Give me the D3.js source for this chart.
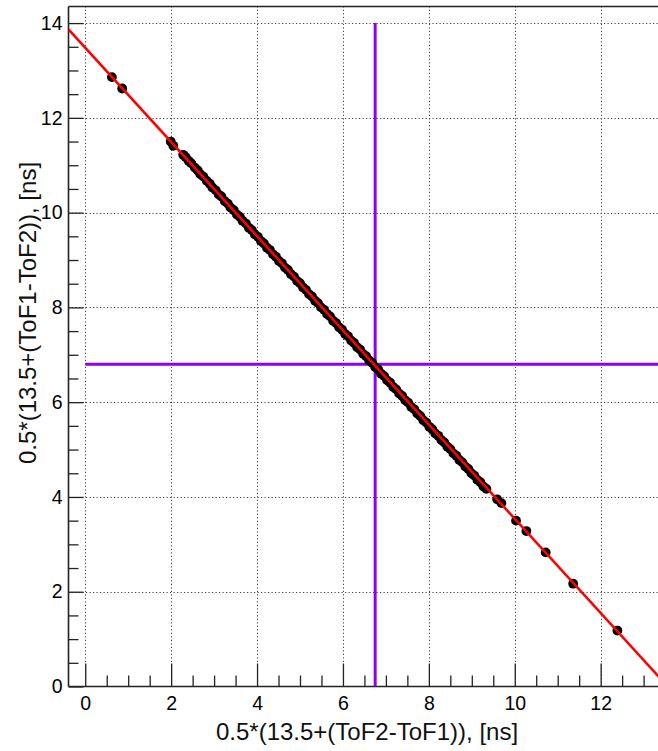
<!DOCTYPE html>
<html>
<head>
<meta charset="utf-8">
<script src="https://cdn.jsdelivr.net/npm/d3@7"></script>
<style>
  body { margin: 0; background: #fff; }
  svg { display: block; font-family: "Liberation Sans", Arial, sans-serif; }
</style>
</head>
<body>
<div id="chart"></div>
<script>
// measured points (x, y) in ns
const outerPoints = [
  [0.62, 12.86], [0.86, 12.62], [1.99, 11.50], [2.05, 11.41],
  [9.59, 3.95], [9.69, 3.87], [10.03, 3.50], [10.27, 3.28],
  [10.72, 2.83], [11.36, 2.17], [12.39, 1.18]
];
const bandPoints = [
  [2.28, 11.22], [2.34, 11.17], [2.41, 11.09], [2.47, 11.04], [2.55, 10.95],
  [2.62, 10.89], [2.68, 10.81], [2.75, 10.76], [2.83, 10.67], [2.90, 10.61],
  [2.96, 10.53], [3.04, 10.47], [3.11, 10.38], [3.17, 10.34], [3.25, 10.24],
  [3.32, 10.19], [3.38, 10.11], [3.46, 10.05], [3.53, 9.96], [3.60, 9.91],
  [3.66, 9.83], [3.74, 9.77], [3.81, 9.68], [3.88, 9.63], [3.95, 9.54],
  [4.02, 9.49], [4.09, 9.40], [4.16, 9.35], [4.23, 9.26], [4.30, 9.21],
  [4.37, 9.12], [4.44, 9.07], [4.51, 8.98], [4.58, 8.93], [4.65, 8.84],
  [4.72, 8.79], [4.79, 8.70], [4.86, 8.65], [4.93, 8.56], [5.00, 8.51],
  [5.07, 8.42], [5.14, 8.37], [5.21, 8.28], [5.28, 8.23], [5.35, 8.14],
  [5.42, 8.09], [5.49, 8.00], [5.56, 7.95], [5.63, 7.86], [5.70, 7.81],
  [5.77, 7.72], [5.84, 7.67], [5.91, 7.58], [5.98, 7.53], [6.05, 7.44],
  [6.12, 7.39], [6.19, 7.30], [6.26, 7.25], [6.33, 7.16], [6.40, 7.11],
  [6.47, 7.02], [6.54, 6.97], [6.61, 6.88], [6.68, 6.83], [6.75, 6.74],
  [6.82, 6.69], [6.89, 6.60], [6.96, 6.55], [7.03, 6.46], [7.10, 6.41],
  [7.17, 6.32], [7.24, 6.27], [7.31, 6.18], [7.38, 6.13], [7.45, 6.04],
  [7.52, 5.99], [7.59, 5.90], [7.66, 5.85], [7.73, 5.76], [7.80, 5.71],
  [7.87, 5.62], [7.94, 5.57], [8.01, 5.48], [8.08, 5.43], [8.15, 5.34],
  [8.22, 5.29], [8.29, 5.20], [8.36, 5.15], [8.43, 5.06], [8.50, 5.01],
  [8.57, 4.92], [8.64, 4.87], [8.71, 4.78], [8.78, 4.73], [8.85, 4.64],
  [8.92, 4.59], [8.99, 4.50], [9.06, 4.45], [9.13, 4.36], [9.20, 4.31],
  [9.27, 4.22], [9.34, 4.17]
];
// linear fit  y = p0 + p1*x
const fitParams = [13.48, -0.994];
// cut lines
const cutX = 6.75;
const cutY = 6.8;

const xMajor = [0, 2, 4, 6, 8, 10, 12];
const xMinor = [0.5, 1, 1.5, 2.5, 3, 3.5, 4.5, 5, 5.5, 6.5, 7, 7.5, 8.5, 9, 9.5, 10.5, 11, 11.5, 12.5, 13];
const yMajor = [0, 2, 4, 6, 8, 10, 12, 14];
const yMinor = [0.5, 1, 1.5, 2.5, 3, 3.5, 4.5, 5, 5.5, 6.5, 7, 7.5, 8.5, 9, 9.5, 10.5, 11, 11.5, 12.5, 13, 13.5];

const xTitle = "0.5*(13.5+(ToF2-ToF1)), [ns]";
const yTitle = "0.5*(13.5+(ToF1-ToF2)), [ns]";

const W = 658, H = 751;
const frame = {left: 68.5, top: 6.5, bottom: 686.5};

const svg = d3.select("#chart").append("svg")
  .attr("width", W).attr("height", H);

svg.append("rect").attr("width", W).attr("height", H).attr("fill", "#fff");

const x = d3.scaleLinear().domain([-0.39, 13.6]).range([frame.left, frame.left + 13.99 * 42.95]);
const y = d3.scaleLinear().domain([0, 14.35]).range([frame.bottom, frame.top]);
const xMax = x.invert(W);

svg.append("clipPath").attr("id", "plot")
  .append("rect")
  .attr("x", frame.left).attr("y", frame.top)
  .attr("width", W - frame.left).attr("height", frame.bottom - frame.top);

// grid
const grid = svg.append("g").attr("stroke", "#444").attr("stroke-width", 1)
  .attr("stroke-dasharray", "1.2,2.3");
grid.selectAll(".gx").data(xMajor).join("line")
  .attr("x1", d => Math.round(x(d)) + 0.5).attr("x2", d => Math.round(x(d)) + 0.5)
  .attr("y1", frame.bottom).attr("y2", frame.top);
grid.selectAll(".gy").data(yMajor.filter(d => d > 0)).join("line")
  .attr("y1", d => Math.round(y(d)) + 0.5).attr("y2", d => Math.round(y(d)) + 0.5)
  .attr("x1", frame.left).attr("x2", W);

// axes (ticks inside the frame)
const fontSize = "19.5px";
const gx = svg.append("g").attr("transform", `translate(0,${frame.bottom})`);
gx.append("g").call(d3.axisBottom(x).tickValues(xMinor).tickSize(-11).tickFormat(""));
gx.append("g").call(d3.axisBottom(x).tickValues(xMajor).tickSize(-23).tickPadding(10).tickFormat(d3.format("d")));
gx.selectAll(".domain").remove();
gx.selectAll("text").attr("font-size", fontSize).attr("fill", "#000").attr("font-family", null);

const gy = svg.append("g").attr("transform", `translate(${frame.left},0)`);
gy.append("g").call(d3.axisLeft(y).tickValues(yMinor).tickSize(-10).tickFormat(""));
gy.append("g").call(d3.axisLeft(y).tickValues(yMajor).tickSize(-15).tickPadding(6).tickFormat(d3.format("d")));
gy.selectAll(".domain").remove();
gy.selectAll("text").attr("font-size", fontSize).attr("fill", "#000").attr("font-family", null);
svg.selectAll(".tick line").attr("stroke", "#222").attr("stroke-width", 1.3);

// frame
svg.append("line").attr("x1", frame.left).attr("x2", W).attr("y1", frame.top).attr("y2", frame.top)
  .attr("stroke", "#222").attr("stroke-width", 1.6);
svg.append("line").attr("x1", frame.left).attr("x2", W).attr("y1", frame.bottom).attr("y2", frame.bottom)
  .attr("stroke", "#222").attr("stroke-width", 1.6);
svg.append("line").attr("x1", frame.left).attr("x2", frame.left).attr("y1", frame.top).attr("y2", frame.bottom)
  .attr("stroke", "#222").attr("stroke-width", 1.6);

const plot = svg.append("g").attr("clip-path", "url(#plot)");

// cut lines
plot.append("line")
  .attr("x1", x(cutX)).attr("x2", x(cutX))
  .attr("y1", y(0)).attr("y2", y(14))
  .attr("stroke", "#8c00f5").attr("stroke-width", 3);
plot.append("line")
  .attr("x1", x(0)).attr("x2", x(xMax))
  .attr("y1", y(cutY)).attr("y2", y(cutY))
  .attr("stroke", "#8c00f5").attr("stroke-width", 3);

// data points
plot.selectAll(".pt").data(outerPoints.concat(bandPoints)).join("circle")
  .attr("cx", d => x(d[0])).attr("cy", d => y(d[1]))
  .attr("r", 4.9).attr("fill", "#000");

// fit line
const xDom = x.domain();
plot.append("line")
  .attr("x1", x(xDom[0])).attr("y1", y(fitParams[0] + fitParams[1] * xDom[0]))
  .attr("x2", x(xDom[1])).attr("y2", y(fitParams[0] + fitParams[1] * xDom[1]))
  .attr("stroke", "#ff0000").attr("stroke-width", 2.6);

// axis titles
svg.append("text")
  .attr("x", 367).attr("y", 740)
  .attr("text-anchor", "middle").attr("font-size", "24px").attr("fill", "#111")
  .text(xTitle);
svg.append("text")
  .attr("transform", "translate(36,313) rotate(-90)")
  .attr("text-anchor", "middle").attr("font-size", "24px").attr("fill", "#111")
  .text(yTitle);
</script>
</body>
</html>
